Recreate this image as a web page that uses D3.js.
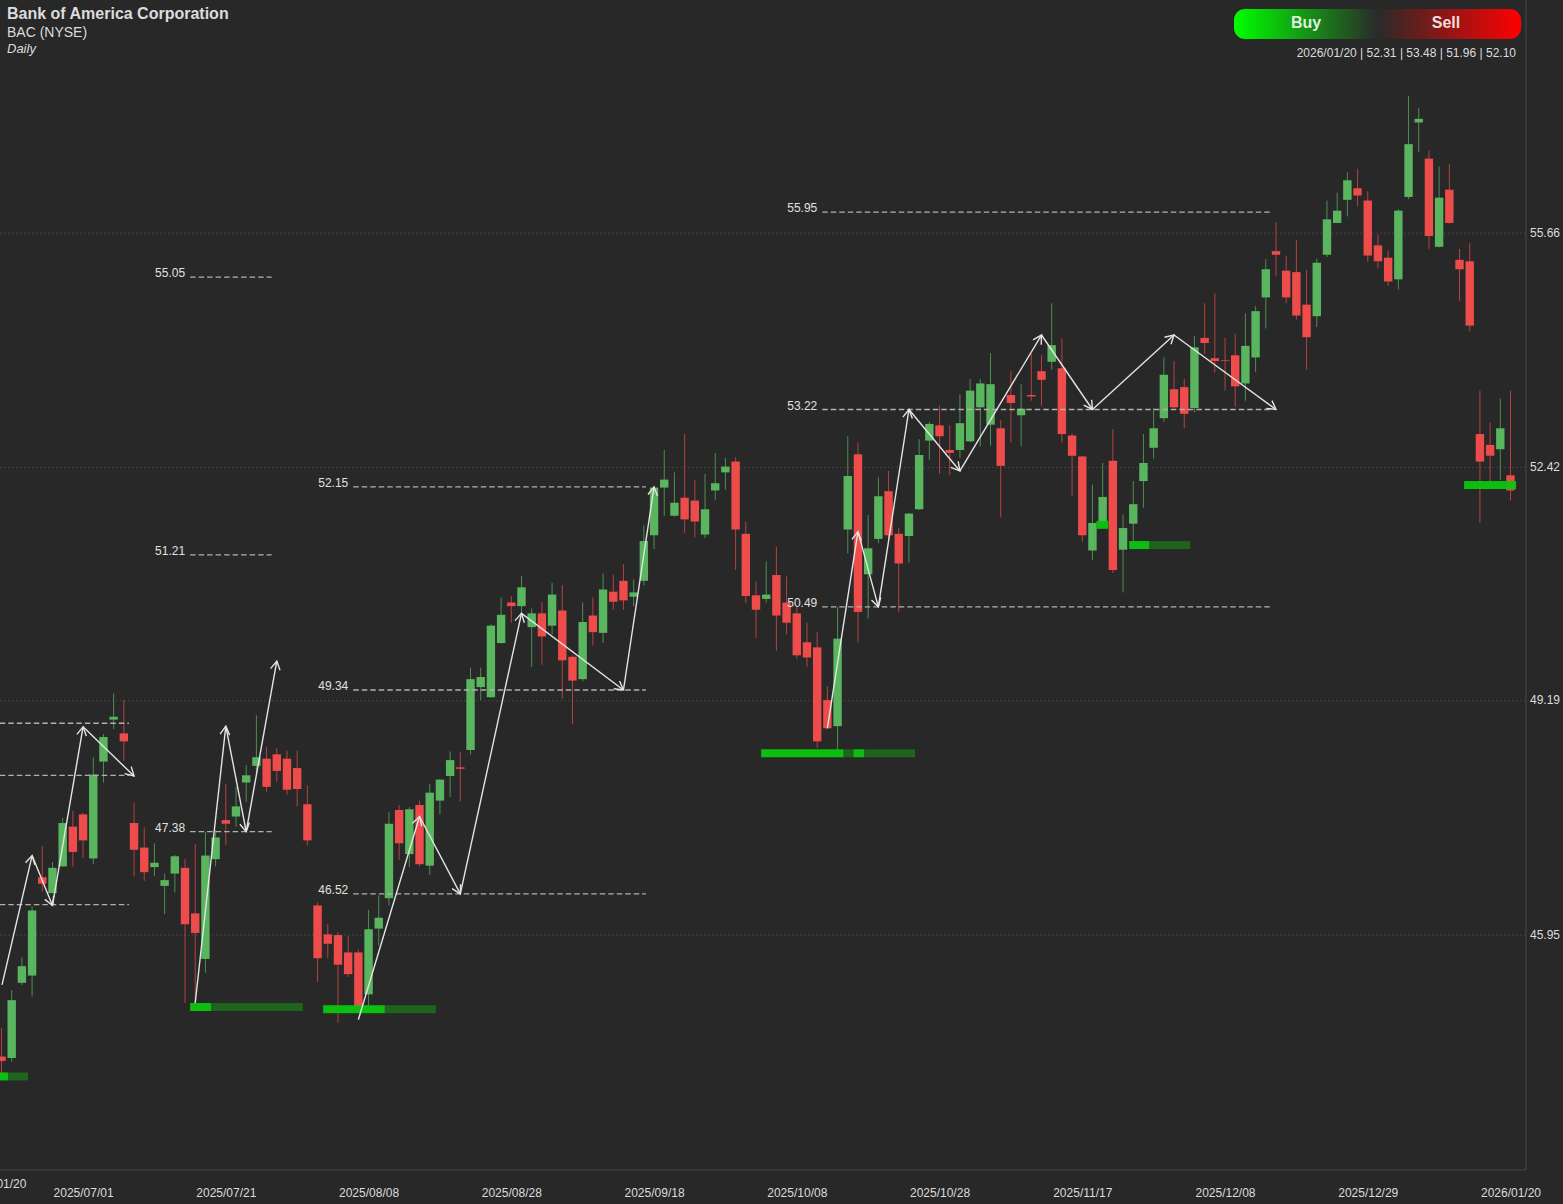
<!DOCTYPE html>
<html>
<head>
<meta charset="utf-8">
<title>BAC Daily</title>
<script src="https://cdn.jsdelivr.net/npm/d3@7"></script>
<style>
  html, body { margin: 0; padding: 0; background: #282828; overflow: hidden; }
  text { font-family: "Liberation Sans", Arial, sans-serif; }
</style>
</head>
<body>
<div id="chart"></div>
<script>
// candles, oldest first
const opens = [44.27,44.25,45.29,45.39,46.75,46.53,46.90,47.45,47.62,47.01,48.35,48.93,48.74,47.50,47.16,46.89,46.63,46.80,46.88,46.25,
  45.62,47.00,47.54,47.59,48.06,48.29,48.39,48.45,48.39,48.26,47.76,46.36,45.96,45.95,45.71,45.71,45.13,46.04,46.46,47.68,
  47.07,47.75,46.91,47.81,48.15,48.27,48.51,49.38,49.24,49.99,50.55,50.50,50.21,50.40,50.23,50.44,49.80,49.49,50.37,50.13,
  50.70,50.85,50.63,50.85,51.48,52.14,51.75,52.00,51.96,51.49,52.10,52.35,52.50,51.50,50.65,50.60,50.93,50.55,50.40,50.00,
  49.93,49.20,48.84,51.56,52.60,50.94,51.43,52.09,51.50,51.47,51.84,52.79,53.00,52.66,52.66,52.78,53.25,53.01,52.96,53.42,
  53.14,53.42,53.75,53.88,53.79,52.86,52.57,51.27,51.67,52.51,51.28,51.64,52.23,52.69,53.10,53.50,53.53,53.24,54.21,53.93,
  53.90,53.97,53.58,53.94,54.77,55.41,55.14,55.12,54.67,54.51,55.36,55.80,56.12,56.28,56.11,55.49,55.32,55.02,56.16,57.19,
  56.69,55.47,56.26,55.29,55.27,52.88,52.73,52.67,52.31];
const highs = [44.66,45.19,45.64,46.35,47.18,46.96,47.57,47.67,47.64,48.41,48.73,49.29,49.20,47.78,47.44,47.22,46.80,47.06,47.00,47.21,
  47.38,47.40,48.04,48.00,48.30,48.99,48.55,48.54,48.50,48.50,48.02,46.40,46.10,45.99,45.94,45.75,46.30,46.50,47.65,47.75,
  47.72,47.81,48.04,48.11,48.49,48.48,49.65,49.65,50.25,50.62,50.64,50.92,50.47,50.56,50.82,50.79,49.82,50.55,50.62,50.95,
  50.93,51.08,50.87,51.62,52.15,52.66,52.35,52.88,52.24,52.33,52.62,52.55,52.56,51.67,50.84,51.12,51.32,50.91,50.49,50.27,
  50.14,49.39,50.49,52.85,52.76,51.76,52.28,52.37,51.58,51.79,52.81,53.05,53.27,53.00,53.43,53.64,53.64,54.00,53.07,53.75,
  53.57,53.99,53.97,54.69,54.20,52.89,52.58,52.18,52.48,52.95,51.77,52.23,52.88,53.24,53.94,53.89,53.64,54.24,54.69,54.83,
  54.21,54.27,54.55,54.65,55.30,55.81,55.34,55.56,55.15,55.31,56.11,56.22,56.50,56.55,56.24,55.64,55.42,55.99,57.56,57.39,
  56.80,56.58,56.61,55.44,55.52,53.48,53.04,53.37,53.48];
const lows = [44.02,44.20,45.26,45.10,46.55,46.53,46.90,46.90,47.02,46.93,48.06,48.80,48.36,46.76,46.70,46.77,46.24,46.54,45.01,45.01,
  45.43,46.90,47.20,47.45,47.79,48.15,47.93,48.07,47.89,47.73,47.19,45.30,45.63,44.74,45.37,44.89,44.98,45.80,46.36,46.99,
  46.89,46.90,46.78,47.62,47.86,47.80,48.45,49.20,49.23,49.98,50.27,50.38,49.66,49.69,50.11,49.22,48.87,49.46,49.96,49.99,
  50.45,50.45,50.50,50.79,51.29,51.75,51.74,51.51,51.45,51.44,51.97,52.11,51.00,50.54,50.06,50.55,49.88,50.11,49.77,49.66,
  48.54,48.81,48.51,51.23,50.00,50.33,51.37,51.41,50.42,51.10,51.83,52.52,52.33,52.31,52.55,52.77,52.71,52.72,51.73,52.76,
  52.71,53.34,53.27,53.77,52.76,52.03,51.39,51.14,51.66,50.96,50.69,51.37,51.86,52.54,53.05,53.24,52.96,53.18,53.99,53.73,
  53.48,53.26,53.34,53.74,54.34,55.06,54.69,54.46,53.77,54.36,55.33,55.80,55.89,56.03,55.26,55.17,54.93,54.88,56.13,56.78,
  55.44,55.46,55.79,54.72,54.30,51.65,52.20,52.24,51.96];
const closes = [44.21,45.05,45.52,46.29,46.66,46.88,47.50,47.10,47.26,48.17,48.69,48.97,48.63,47.13,46.82,46.95,46.71,47.04,46.10,45.98,
  47.05,47.30,47.49,47.73,48.16,48.41,48.00,48.22,47.96,47.97,47.26,45.63,45.83,45.54,45.41,44.96,46.03,46.19,47.49,47.22,
  47.69,46.93,47.92,48.10,48.37,48.25,49.49,49.52,50.23,50.38,50.50,50.76,50.40,50.08,50.66,49.75,49.47,50.28,50.14,50.73,
  50.56,50.58,50.69,51.40,52.14,52.25,51.93,51.70,51.67,51.84,52.20,52.43,51.56,50.64,50.45,50.66,50.37,50.27,49.82,49.79,
  48.63,48.81,50.05,52.30,50.42,51.30,52.02,51.48,51.09,51.78,52.59,53.02,52.85,52.62,53.03,53.48,53.58,53.57,52.44,53.31,
  53.23,53.40,53.63,54.11,52.88,52.58,51.48,51.65,52.01,51.00,51.58,51.91,52.48,52.96,53.70,53.25,53.16,54.08,54.14,53.89,
  53.89,53.54,54.10,54.58,55.16,55.36,54.77,54.52,54.22,55.25,55.85,55.97,56.39,56.18,55.35,55.27,54.99,55.97,56.89,57.24,
  55.62,56.15,55.80,55.16,54.38,52.50,52.58,52.96,52.10];

const lastDate = "2026/01/20";

// x axis, bar index of each date label
const tickBars = [-0.55, 8, 22, 36, 50, 64, 78, 92, 106, 120, 134, 148];
const tickLabels = ["2025/01/20", "2025/07/01", "2025/07/21", "2025/08/08", "2025/08/28", "2025/09/18",
  "2025/10/08", "2025/10/28", "2025/11/17", "2025/12/08", "2025/12/29", "2026/01/20"];
const priceTicks = [55.66, 52.42, 49.19, 45.95];

// dashed levels: first bar, last bar, price
const levelFrom = [-1, -1, -1, 18.5, 18.5, 18.5, 34.5, 34.5, 34.5, 80.5, 80.5, 80.5];
const levelTo = [12.5, 12.5, 12.5, 26.5, 26.5, 26.5, 63.2, 63.2, 63.2, 124.5, 124.5, 124.5];
const levelPrice = [48.88, 48.16, 46.37, 55.05, 51.21, 47.38, 52.15, 49.34, 46.52, 55.95, 53.22, 50.49];

// zigzag arrows, each list is [bar, price] pairs
const zigzags = [
  [[0.05, 45.26], [3, 47.05], [5, 46.36], [8, 48.83], [13, 48.15]],
  [[19, 45.01], [22, 48.84], [24, 47.38], [27, 49.74]],
  [[35, 44.78], [41, 47.59], [45, 46.52], [51, 50.40], [61, 49.34], [64, 52.15]],
  [[81, 48.81], [84, 51.53], [86, 50.49], [89, 53.22], [94, 52.37], [102, 54.25], [107, 53.22], [115, 54.25], [125, 53.22]]
];

// volume-profile style strips under the swing lows
const stripFrom = [-1, 0.65, 18.5, 20.55, 31.55, 37.6, 74.5, 82.6, 83.55, 84.6, 107.4, 110.6, 112.6, 143.45];
const stripTo = [0.65, 2.6, 20.55, 29.55, 37.6, 42.6, 82.6, 83.55, 84.6, 89.6, 108.55, 112.6, 116.6, 148.55];
const stripPrice = [44.05, 44.05, 45.01, 45.01, 44.98, 44.98, 48.52, 48.52, 48.52, 48.52, 51.68, 51.40, 51.40, 52.23];
const stripStrong = [1, 0, 1, 0, 1, 0, 1, 0, 1, 0, 1, 1, 0, 1];

const width = 1563;
const height = 1204;
const plotRight = 1526;
const plotBottom = 1170;
const green = "#5ab55f";
const red = "#ee4b4b";

const x = d3.scaleLinear().domain([0, 148]).range([1.5, 1510.5]);
const y = d3.scaleLinear().domain([58.884, 40]).range([0, 1365.24]);

const svg = d3
  .select("#chart")
  .append("svg")
  .attr("width", width)
  .attr("height", height)
  .style("display", "block");

const defs = svg.append("defs");

const pillGradient = defs.append("linearGradient").attr("id", "pill");
pillGradient.append("stop").attr("offset", "0%").attr("stop-color", "#00ff00");
pillGradient.append("stop").attr("offset", "50%").attr("stop-color", "#2a2a2a");
pillGradient.append("stop").attr("offset", "100%").attr("stop-color", "#ff0000");

defs
  .append("marker")
  .attr("id", "head")
  .attr("markerUnits", "userSpaceOnUse")
  .attr("viewBox", "-12 -7 14 14")
  .attr("markerWidth", 14)
  .attr("markerHeight", 14)
  .attr("refX", 0)
  .attr("refY", 0)
  .attr("orient", "auto")
  .append("path")
  .attr("d", "M-8.5,-4.8L0,0L-8.5,4.8")
  .attr("fill", "none")
  .attr("stroke", "#e4e4e4")
  .attr("stroke-width", 1.4);

// grid
svg
  .append("g")
  .selectAll("line")
  .data(priceTicks)
  .enter()
  .append("line")
  .attr("x1", 0)
  .attr("x2", plotRight)
  .attr("y1", (d) => y(d))
  .attr("y2", (d) => y(d))
  .attr("stroke", "#4a4a4a")
  .attr("stroke-dasharray", "1.5 2.5");

// frame
svg
  .append("line")
  .attr("x1", 0)
  .attr("x2", plotRight)
  .attr("y1", plotBottom)
  .attr("y2", plotBottom)
  .attr("stroke", "#3c3c3c")
  .attr("stroke-width", 1.5);
svg
  .append("line")
  .attr("x1", plotRight)
  .attr("x2", plotRight)
  .attr("y1", 0)
  .attr("y2", plotBottom)
  .attr("stroke", "#3c3c3c")
  .attr("stroke-width", 1.5);

// axes
const xAxis = svg
  .append("g")
  .attr("transform", `translate(0,${plotBottom})`)
  .call(
    d3
      .axisBottom(x)
      .tickValues(tickBars)
      .tickFormat((d, i) => tickLabels[i])
      .tickSize(0)
      .tickPadding(18)
  );
xAxis.select(".domain").remove();
xAxis
  .selectAll("text")
  .style("font-family", '"Liberation Sans", Arial, sans-serif')
  .style("font-size", "12px")
  .attr("fill", "#dcdcdc")
  .attr("dy", (d, i) => (i === 0 ? "-0.02em" : "0.71em"));

const yAxis = svg
  .append("g")
  .attr("transform", `translate(${plotRight},0)`)
  .call(d3.axisRight(y).tickValues(priceTicks).tickFormat(d3.format(".2f")).tickSize(0).tickPadding(4));
yAxis.select(".domain").remove();
yAxis
  .selectAll("text")
  .style("font-family", '"Liberation Sans", Arial, sans-serif')
  .style("font-size", "12px")
  .attr("fill", "#dcdcdc")
  .attr("y", -0.8);

// candles
const candle = svg
  .append("g")
  .selectAll("g")
  .data(closes.map((c, i) => i))
  .enter()
  .append("g")
  .attr("fill", (i) => (closes[i] >= opens[i] ? green : red));

candle
  .append("rect")
  .attr("x", (i) => x(i) - 0.5)
  .attr("width", 1)
  .attr("y", (i) => y(highs[i]))
  .attr("height", (i) => y(lows[i]) - y(highs[i]))
  .attr("opacity", 0.72);

candle
  .append("rect")
  .attr("x", (i) => x(i) - 4.2)
  .attr("width", 8.4)
  .attr("y", (i) => y(Math.max(opens[i], closes[i])))
  .attr("height", (i) => Math.abs(y(opens[i]) - y(closes[i])));

// strips
svg
  .append("g")
  .selectAll("rect")
  .data(stripPrice.map((p, i) => i))
  .enter()
  .append("rect")
  .attr("x", (i) => x(stripFrom[i]))
  .attr("width", (i) => x(stripTo[i]) - x(stripFrom[i]))
  .attr("y", (i) => y(stripPrice[i]))
  .attr("height", 8)
  .attr("fill", (i) => (stripStrong[i] ? "#0ac60e" : "#1e661e"))
  .attr("opacity", 0.95);

// dashed levels
svg
  .append("g")
  .selectAll("line")
  .data(levelPrice.map((p, i) => i))
  .enter()
  .append("line")
  .attr("x1", (i) => x(levelFrom[i]))
  .attr("x2", (i) => x(levelTo[i]))
  .attr("y1", (i) => y(levelPrice[i]))
  .attr("y2", (i) => y(levelPrice[i]))
  .attr("stroke", "#b0b0b0")
  .attr("stroke-width", 1.3)
  .attr("stroke-dasharray", "5.5 3");

svg
  .append("g")
  .selectAll("text")
  .data(levelPrice.map((p, i) => i).filter((i) => levelFrom[i] >= 0))
  .enter()
  .append("text")
  .attr("x", (i) => x(levelFrom[i]) - 5)
  .attr("y", (i) => y(levelPrice[i]) + 0.3)
  .attr("text-anchor", "end")
  .attr("font-size", 12)
  .attr("fill", "#e0e0e0")
  .text((i) => levelPrice[i].toFixed(2));

// zigzag arrows
const arrows = svg.append("g");
zigzags.forEach((points) => {
  arrows
    .selectAll(null)
    .data(points.slice(1).map((p, i) => [points[i], p]))
    .enter()
    .append("line")
    .attr("x1", (d) => x(d[0][0]))
    .attr("y1", (d) => y(d[0][1]))
    .attr("x2", (d) => x(d[1][0]))
    .attr("y2", (d) => y(d[1][1]))
    .attr("stroke", "#e4e4e4")
    .attr("stroke-width", 1.4)
    .attr("marker-end", "url(#head)");
});

// title block
svg.append("text").attr("x", 7).attr("y", 19).attr("font-size", 16).attr("font-weight", "bold").attr("fill", "#dcdcdc").text("Bank of America Corporation");
svg.append("text").attr("x", 7).attr("y", 37).attr("font-size", 14).attr("fill", "#dcdcdc").text("BAC (NYSE)");
svg.append("text").attr("x", 7).attr("y", 53).attr("font-size", 13).attr("font-style", "italic").attr("fill", "#dcdcdc").text("Daily");

// buy / sell pill
svg.append("rect").attr("x", 1234).attr("y", 9).attr("width", 287).attr("height", 30).attr("rx", 11).attr("fill", "url(#pill)");
svg.append("text").attr("x", 1306).attr("y", 28).attr("text-anchor", "middle").attr("font-size", 16).attr("font-weight", "bold").attr("fill", "#dfeedd").text("Buy");
svg.append("text").attr("x", 1446).attr("y", 28).attr("text-anchor", "middle").attr("font-size", 16).attr("font-weight", "bold").attr("fill", "#f0dcdc").text("Sell");

// last bar readout
const last = closes.length - 1;
svg
  .append("text")
  .attr("x", 1516)
  .attr("y", 57)
  .attr("text-anchor", "end")
  .attr("font-size", 12)
  .attr("fill", "#dcdcdc")
  .text([lastDate, opens[last].toFixed(2), highs[last].toFixed(2), lows[last].toFixed(2), closes[last].toFixed(2)].join(" | "));
</script>
</body>
</html>
